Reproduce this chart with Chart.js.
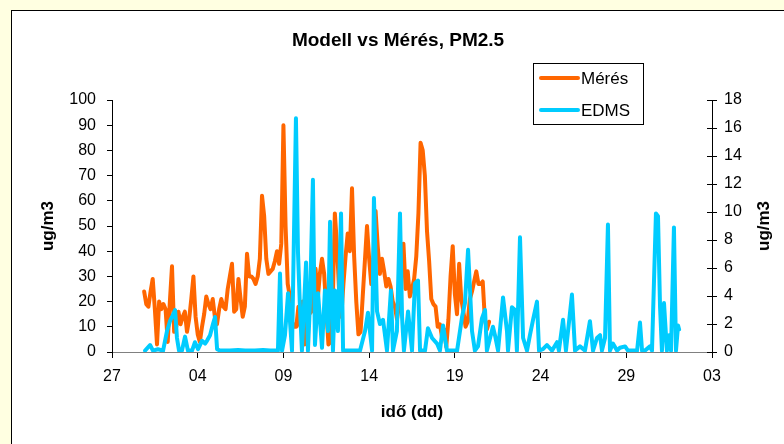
<!DOCTYPE html>
<html>
<head>
<meta charset="utf-8">
<script src="https://cdn.jsdelivr.net/npm/chart.js@4/dist/chart.umd.min.js"></script>
<style>
    html, body { margin: 0; padding: 0; overflow: hidden; }
    body { width: 784px; height: 444px; background: #FFFFE1; position: relative; font-family: Arial, "Liberation Sans", sans-serif; }
    #frame { position: absolute; left: 11px; top: 10px; width: 800px; height: 460px; background: #fff; border: 1px solid #000; }
    #chart { position: absolute; left: 0; top: 0; }
    #right-title { position: absolute; left: 764px; top: 226px; transform: translate(-50%, -50%) rotate(-90deg); font: bold 17px Arial, "Liberation Sans", sans-serif; white-space: nowrap; }
</style>
</head>
<body>
<div id="frame">
    <canvas id="chart" width="772" height="433"></canvas>
</div>
<div id="right-title">ug/m3</div>
<script>
// x values are days counted from the 27th (first tick)
const x_labels = ["27", "04", "09", "14", "19", "24", "29", "03"];

// measured PM2.5, one value every 3 hours from hour 45
const meres_start_hour = 45;
const meres_step_hours = 3;
const meres_values = [24, 19, 18, 24, 29, 17, 3, 20, 17, 19, 17, 4, 20, 34, 8, 10, 16, 11, 14, 16,
    8, 13, 21, 30, 14, 7, 4, 10, 15, 22, 19, 17, 21, 14, 11, 17, 21, 18, 17, 25,
    30, 35, 16, 17, 29, 21, 14, 18, 39, 30, 30, 29, 27, 30, 37, 62, 54, 37, 31, 32,
    33, 36, 40, 35, 43, 90, 50, 27, 22, 12, 10, 10, 18, 10, 20, 3, 17, 15, 16, 27,
    33, 21, 31, 37, 31, 17, 3, 4, 19, 55, 42, 24, 14, 27, 38, 47, 40, 65, 38, 20,
    7, 8, 22, 36, 50, 37, 27, 37, 56, 42, 31, 37, 32, 26, 29, 26, 20, 18, 13, 19,
    33, 43, 25, 32, 22, 25, 29, 38, 55, 83, 80, 70, 48, 36, 21, 19, 18, 10, 11, 6,
    9, 2, 13, 30, 42, 23, 15, 35, 21, 16, 10, 12, 21, 24, 28, 32, 27, 27, 28, 13,
    9, 12];

// EDMS model output (right axis)
const edms_days = [1.93, 2.22, 2.39, 2.68, 2.98, 3.21, 3.38, 3.50, 3.68, 3.79, 3.91, 4.08, 4.26, 4.43, 4.67, 4.84, 5.02, 5.25, 5.43, 5.54,
    5.72, 5.89, 6.01, 6.13, 6.30, 6.88, 7.35, 7.76, 8.34, 8.81, 9.22, 9.68, 9.80, 9.92, 10.09, 10.27, 10.50, 10.73, 10.85, 10.97,
    11.08, 11.32, 11.43, 11.55, 11.72, 11.84, 12.02, 12.25, 12.42, 12.60, 12.72, 12.89, 13.01, 13.18, 13.36, 13.48, 13.88, 14.47, 14.76, 14.93,
    15.17, 15.28, 15.46, 15.63, 15.81, 16.04, 16.27, 16.39, 16.62, 16.80, 16.92, 17.03, 17.27, 17.50, 17.67, 17.85, 17.97, 18.26, 18.43, 18.67,
    18.96, 19.13, 19.31, 19.54, 19.83, 20.13, 20.42, 20.59, 20.77, 21.00, 21.17, 21.35, 21.58, 21.76, 21.87, 22.22, 22.34, 22.52, 22.81, 23.04,
    23.10, 23.33, 23.51, 23.62, 23.80, 23.98, 24.21, 24.38, 24.56, 24.79, 24.91, 25.14, 25.37, 25.67, 25.96, 26.07, 26.31, 26.48, 26.83, 27.01,
    27.30, 27.59, 27.88, 28.06, 28.29, 28.47, 28.58, 28.76, 28.93, 29.05, 29.22, 29.46, 29.63, 29.93, 30.10, 30.39, 30.63, 30.80, 30.92, 31.09,
    31.38, 31.50, 31.73, 31.85, 31.97, 32.08, 32.20, 32.37, 32.49, 32.61, 32.78, 32.90, 33.02, 33.08];
const edms_values = [0.1, 0.5, 0.1, 0.2, 0.1, 1.5, 2.2, 2.5, 3.0, 1.0, 0.1, 0.1, 1.1, 0.1, 0.1, 0.7, 0.2, 0.8, 0.6, 0.8,
    1.2, 2.0, 2.5, 0.2, 0.1, 0.1, 0.15, 0.1, 0.1, 0.15, 0.1, 0.1, 5.6, 0.1, 1.2, 4.2, 0.1, 16.7, 7.1, 3.0,
    0.1, 6.4, 0.1, 3.5, 12.3, 0.5, 4.2, 0.3, 4.4, 1.5, 9.3, 0.1, 4.4, 1.5, 9.9, 0.1, 0.1, 0.1, 1.5, 2.8,
    0.1, 11.0, 2.9, 2.0, 2.3, 0.1, 4.4, 0.1, 1.5, 9.9, 2.5, 0.1, 2.9, 0.1, 4.9, 5.1, 0.1, 0.1, 1.7, 1.0,
    0.6, 0.1, 1.9, 0.1, 0.1, 0.1, 2.5, 3.5, 7.3, 1.5, 0.1, 0.4, 2.4, 3.0, 0.1, 1.8, 1.2, 0.1, 3.9, 1.5,
    0.1, 3.2, 3.0, 0.1, 8.2, 1.0, 0.1, 1.2, 2.3, 3.6, 0.1, 0.2, 0.5, 0.1, 0.7, 0.1, 2.3, 0.1, 4.1, 0.1,
    0.4, 0.1, 2.2, 0.1, 1.0, 1.2, 0.1, 1.0, 9.1, 0.1, 0.6, 0.1, 0.3, 0.4, 0.1, 0.1, 0.1, 2.1, 0.1, 0.1,
    0.4, 0.1, 9.9, 9.7, 3.2, 0.1, 3.5, 0.1, 1.2, 0.1, 8.9, 0.1, 1.9, 1.6];

const meres_colour = "#FF6600";
const edms_colour = "#00CCFF";

function seriesPoints(start_hour, step_hours, values) {
    let points = [];
    for (let i = 0; i < values.length; i ++) {
        points.push({ x: (start_hour + i * step_hours) / 24, y: values[i] });
    }
    return points;
}

function toPoints(days, values) {
    let points = [];
    for (let i = 0; i < days.length; i ++) {
        points.push({ x: days[i], y: values[i] });
    }
    return points;
}

// legend box drawn inside the plot, top right
const legendBox = {
    id: "legendBox",
    afterDraw(chart) {
        const ctx = chart.ctx;
        const items = [["Mérés", meres_colour], ["EDMS", edms_colour]];
        ctx.save();
        ctx.fillStyle = "#fff";
        ctx.fillRect(521.5, 52.5, 110, 61);
        ctx.strokeStyle = "#000";
        ctx.lineWidth = 1;
        ctx.strokeRect(521.5, 52.5, 110, 61);
        ctx.font = "17px Arial, 'Liberation Sans', sans-serif";
        ctx.textBaseline = "middle";
        for (let i = 0; i < items.length; i ++) {
            const y = 67 + i * 32;
            ctx.strokeStyle = items[i][1];
            ctx.lineWidth = 4;
            ctx.lineCap = "round";
            ctx.beginPath();
            ctx.moveTo(529, y);
            ctx.lineTo(566, y);
            ctx.stroke();
            ctx.fillStyle = "#000";
            ctx.fillText(items[i][0], 569, y + 1);
        }
        ctx.restore();
    }
};

// right axis ticks cross the axis line
const innerTicks = {
    id: "innerTicks",
    afterDraw(chart) {
        const scale = chart.scales.y2;
        const ctx = chart.ctx;
        ctx.save();
        ctx.strokeStyle = "#000";
        ctx.lineWidth = 1;
        scale.ticks.forEach((t) => {
            const y = Math.round(scale.getPixelForValue(t.value)) + 0.5;
            ctx.beginPath();
            ctx.moveTo(scale.left - 5, y);
            ctx.lineTo(scale.left, y);
            ctx.stroke();
        });
        ctx.restore();
    }
};

window.addEventListener("DOMContentLoaded", () => {

    const tick_font = { family: "Arial, 'Liberation Sans', sans-serif", size: 16 };
    const title_font = { family: "Arial, 'Liberation Sans', sans-serif", size: 17, weight: "bold" };

    const config = {
        type: "line",
        data: {
            datasets: [{
                label: "Mérés",
                data: seriesPoints(meres_start_hour, meres_step_hours, meres_values),
                borderColor: meres_colour,
                borderWidth: 4,
                pointRadius: 0,
                borderJoinStyle: "round",
                borderCapStyle: "round",
                yAxisID: "y",
                order: 1
            },
            {
                label: "EDMS",
                data: toPoints(edms_days, edms_values),
                borderColor: edms_colour,
                borderWidth: 4,
                pointRadius: 0,
                borderJoinStyle: "round",
                borderCapStyle: "round",
                yAxisID: "y2",
                order: 0
            }]
        },
        options: {
            responsive: false,
            animation: false,
            layout: { padding: 0 },
            plugins: {
                legend: { display: false },
                tooltip: { enabled: false },
                title: {
                    display: true,
                    text: "Modell vs Mérés, PM2.5",
                    color: "#000",
                    font: { family: "Arial, 'Liberation Sans', sans-serif", size: 19, weight: "bold" },
                    padding: { top: 18, bottom: 48.2 }
                }
            },
            scales: {
                x: {
                    type: "linear",
                    min: 0,
                    max: 35,
                    afterFit: (s) => { s.height = 92; },
                    ticks: {
                        stepSize: 5,
                        color: "#000",
                        font: tick_font,
                        padding: 9,
                        maxRotation: 0,
                        callback: (v) => x_labels[Math.round(v / 5)]
                    },
                    grid: { drawOnChartArea: false, drawTicks: true, tickLength: 6, color: "#000" },
                    border: { display: true, color: "#808080", width: 1 },
                    title: { display: true, text: "idő (dd)", color: "#000", font: title_font, padding: { top: 0, bottom: 21 } }
                },
                y: {
                    position: "left",
                    min: 0,
                    max: 100,
                    afterFit: (s) => { s.width = 100; },
                    ticks: { stepSize: 10, color: "#000", font: tick_font, padding: 11 },
                    grid: { drawOnChartArea: false, drawTicks: true, tickLength: 5, color: "#000" },
                    border: { display: true, color: "#000", width: 1 },
                    title: { display: true, text: "ug/m3", color: "#000", font: title_font, padding: { top: 26, bottom: 0 } }
                },
                y2: {
                    position: "right",
                    min: 0,
                    max: 18,
                    afterFit: (s) => { s.width = 72; },
                    ticks: { stepSize: 2, color: "#000", font: tick_font, padding: 7 },
                    grid: { drawOnChartArea: false, drawTicks: true, tickLength: 5, color: "#000" },
                    border: { display: true, color: "#000", width: 1 }
                }
            }
        },
        plugins: [legendBox, innerTicks]
    };

    const ctx = document.getElementById("chart").getContext("2d");
    new Chart(ctx, config);
});
</script>
</body>
</html>
